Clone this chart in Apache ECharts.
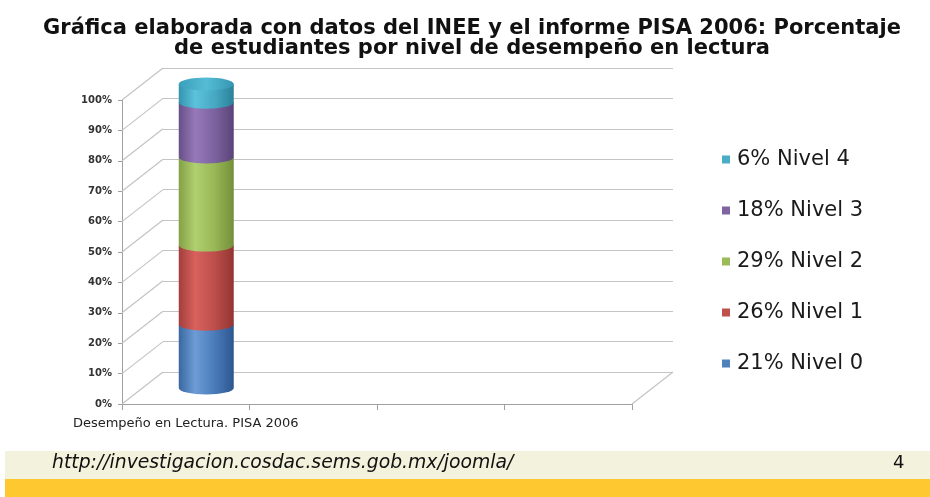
<!DOCTYPE html>
<html>
<head>
<meta charset="utf-8">
<script src="https://cdn.jsdelivr.net/npm/echarts@6/dist/echarts.min.js"></script>
<style>
  html, body { margin: 0; padding: 0; background: #fff; }
  #echart { width: 930px; height: 497px; }
</style>
</head>
<body>
<div id="echart"></div>
<script>
var categories = ['Desempeño en Lectura. PISA 2006', '', '', ''];
var levels = ['Nivel 0', 'Nivel 1', 'Nivel 2', 'Nivel 3', 'Nivel 4'];
var percents = [21, 26, 29, 18, 6];
var yTicks = [0, 10, 20, 30, 40, 50, 60, 70, 80, 90, 100];
var colors = ['#4F81BD', '#C0504D', '#9BBB59', '#8064A2', '#4BACC6'];
var shades = [
  ['#3a67a0', '#6d9cd6', '#4a7cba', '#2d5690'],
  ['#a23f3c', '#d8615d', '#bd4e4b', '#923532'],
  ['#83a145', '#b0cf70', '#98b856', '#748f3a'],
  ['#684f88', '#9579b8', '#7d62a0', '#5b4478'],
  ['#3494ae', '#5cc2dc', '#47a9c4', '#2b8199']
];

var DX = 41, DY = -32, R = 27.5, RY = 6.5;

var myChart = echarts.init(document.getElementById('echart'));

function grad(c) {
  return new echarts.graphic.LinearGradient(0, 0, 1, 0, [
    {offset: 0, color: c[0]}, {offset: 0.3, color: c[1]},
    {offset: 0.65, color: c[2]}, {offset: 1, color: c[3]}
  ]);
}

var series = [];
var base = 0;
for (var i = 0; i < percents.length; i++) {
  (function(idx, b) {
    series.push({
      name: percents[idx] + '% ' + levels[idx],
      type: 'custom',
      xAxisIndex: 0,
      yAxisIndex: 0,
      itemStyle: {color: colors[idx]},
      data: [[0, b, b + percents[idx]]],
      encode: {x: 0, y: [1, 2]},
      z: 10 + idx,
      renderItem: function(params, api) {
        var p0 = api.coord([api.value(0), api.value(1)]);
        var p1 = api.coord([api.value(0), api.value(2)]);
        var cx = p0[0] + DX / 2;
        var y0 = p0[1] + DY / 2;
        var y1 = p1[1] + DY / 2;
        var body = 'M' + (cx - R) + ',' + y1 + ' L' + (cx + R) + ',' + y1 +
          ' L' + (cx + R) + ',' + y0 + ' A' + R + ' ' + RY + ' 0 0 1 ' + (cx - R) + ',' + y0 + ' Z';
        var children = [{
          type: 'path',
          shape: {pathData: body},
          style: {fill: grad(shades[idx])}
        }];
        if (idx === percents.length - 1) {
          var cap = 'M' + (cx - R) + ',' + y1 + ' A' + R + ' ' + RY + ' 0 1 1 ' + (cx + R) + ',' + y1 +
            ' A' + R + ' ' + RY + ' 0 1 1 ' + (cx - R) + ',' + y1 + ' Z';
          children.push({
            type: 'path',
            shape: {pathData: cap},
            style: {fill: new echarts.graphic.LinearGradient(0, 0, 1, 0, [
              {offset: 0, color: '#3a9fba'}, {offset: 0.5, color: '#55bcd6'}, {offset: 1, color: '#3597b2'}
            ])}
          });
        }
        return {type: 'group', children: children};
      }
    });
  })(i, base);
  base += percents[i];
}

// paredes 3D: diagonales del lado izquierdo y piso
series.push({
  type: 'custom',
  xAxisIndex: 0,
  yAxisIndex: 0,
  silent: true,
  z: 2,
  data: yTicks.map(function(v) { return [0, v]; }),
  renderItem: function(params, api) {
    var p = api.coord([0, api.value(1)]);
    var bw = api.size([1, 0])[0];
    var x0 = p[0] - bw / 2;
    var kids = [{
      type: 'line',
      shape: {x1: x0, y1: p[1], x2: x0 + DX, y2: p[1] + DY},
      style: {stroke: '#c4c4c4', lineWidth: 1.2}
    }];
    if (api.value(1) === 0) {
      var x1 = api.coord([3, 0])[0] + bw / 2;
      kids.push({
        type: 'line',
        shape: {x1: x1, y1: p[1], x2: x1 + DX, y2: p[1] + DY},
        style: {stroke: '#c4c4c4', lineWidth: 1.2}
      });
    }
    return {type: 'group', children: kids};
  }
});

var option = {
  backgroundColor: '#ffffff',
  animation: false,
  title: {
    text: 'Gráfica elaborada con datos del INEE y el informe PISA 2006: Porcentaje\nde estudiantes por nivel de desempeño en lectura',
    left: 472,
    top: 19,
    padding: 0,
    textAlign: 'center',
    textStyle: {
      fontFamily: 'DejaVu Sans',
      fontWeight: 'bold',
      fontSize: 21,
      lineHeight: 20,
      color: '#111'
    }
  },
  legend: {
    orient: 'vertical',
    left: 722,
    top: 149,
    padding: 0,
    icon: 'rect',
    itemWidth: 8,
    itemHeight: 8,
    itemGap: 30,
    data: series.slice(0, percents.length).map(function(s) { return s.name; }).reverse(),
    textStyle: {
      fontFamily: 'DejaVu Sans',
      fontSize: 21,
      lineHeight: 20,
      color: '#1a1a1a',
      padding: [0, 0, 0, 2]
    }
  },
  grid: [
    {left: 122, right: 298, top: 100, bottom: 93},
    {left: 163, right: 257, top: 68, bottom: 125}
  ],
  xAxis: [{
    gridIndex: 0,
    type: 'category',
    data: categories,
    axisLine: {lineStyle: {color: '#a0a0a0'}},
    axisTick: {show: true, length: 6, lineStyle: {color: '#a0a0a0'}},
    axisLabel: {
      interval: 0,
      margin: 13,
      fontFamily: 'DejaVu Sans',
      fontSize: 13,
      color: '#222'
    },
    splitLine: {show: false}
  }, {
    gridIndex: 1,
    type: 'category',
    data: categories,
    show: false
  }],
  yAxis: [{
    gridIndex: 0,
    type: 'value',
    min: 0,
    max: 100,
    interval: 10,
    axisLine: {show: true, lineStyle: {color: '#a0a0a0'}},
    axisTick: {show: true, length: 4, lineStyle: {color: '#a0a0a0'}},
    axisLabel: {
      formatter: '{value}%',
      margin: 10,
      fontFamily: 'DejaVu Sans',
      fontWeight: 'bold',
      fontSize: 10,
      color: '#333'
    },
    splitLine: {show: false}
  }, {
    gridIndex: 1,
    type: 'value',
    min: 0,
    max: 100,
    interval: 10,
    axisLine: {show: false},
    axisTick: {show: false},
    axisLabel: {show: false},
    splitLine: {show: true, lineStyle: {color: '#c4c4c4', width: 1.2}}
  }],
  graphic: [
    {type: 'rect', left: 5, top: 451, shape: {width: 925, height: 28}, style: {fill: '#f3f2dc'}},
    {type: 'rect', left: 5, top: 479, shape: {width: 925, height: 18}, style: {fill: '#fdc830'}},
    {type: 'text', left: 52, top: 454, style: {
      text: 'http://investigacion.cosdac.sems.gob.mx/joomla/',
      fontFamily: 'DejaVu Sans', fontStyle: 'italic', fontSize: 18.8, fill: '#111'
    }},
    {type: 'text', left: 893, top: 454, style: {
      text: '4', fontFamily: 'DejaVu Sans', fontSize: 18, fill: '#111'
    }}
  ],
  series: series
};

myChart.setOption(option);
</script>
</body>
</html>
